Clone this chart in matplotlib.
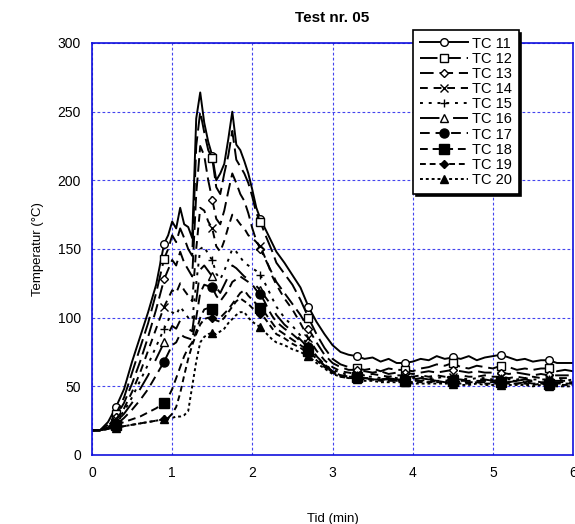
import numpy as np
import matplotlib
matplotlib.use("Agg")
import matplotlib.pyplot as plt

plt.rcParams['font.family'] = ['Liberation Sans', 'DejaVu Sans']

# sample times (min)
time_min = [0.0, 0.1, 0.2, 0.3, 0.4, 0.5, 0.6, 0.7, 0.8, 0.9,
            0.95, 1.0, 1.05, 1.1, 1.15, 1.2, 1.25, 1.3, 1.35, 1.4,
            1.45, 1.5, 1.55, 1.6, 1.65, 1.7, 1.75, 1.8, 1.85, 1.9,
            1.95, 2.0, 2.05, 2.1, 2.15, 2.2, 2.25, 2.3,
            2.4, 2.5, 2.6, 2.7, 2.8, 2.9, 3.0, 3.1, 3.2, 3.3,
            3.4, 3.5, 3.6, 3.7, 3.8, 3.9, 4.0, 4.1, 4.2, 4.3,
            4.4, 4.5, 4.6, 4.7, 4.8, 4.9, 5.0, 5.1, 5.2, 5.3,
            5.4, 5.5, 5.6, 5.7, 5.8, 5.9, 6.0]

tc11 = [18, 18, 24, 35, 48, 68, 86, 104, 124, 154,
        160, 170, 165, 180, 168, 166, 158, 245, 264, 242, 228, 218, 200, 205,
        212, 230, 250, 226, 222, 214, 205, 193, 180, 172, 166, 160, 154, 148,
        140, 131, 122, 108, 97, 88, 80, 75, 73, 72, 70, 71, 68, 70, 67, 67, 68, 70,
        69, 72, 70, 71, 70, 72, 69, 71, 72, 73, 71, 69, 70, 68, 69, 69, 67, 67, 67]
tc12 = [18, 18, 22, 30, 42, 60, 78, 96, 118, 143,
        150, 160, 155, 165, 158, 150, 145, 225, 250, 235, 222, 216, 195, 190,
        205, 218, 236, 215, 210, 205, 198, 188, 176, 170, 162, 155, 148, 140,
        132, 124, 113, 100, 88, 78, 70, 66, 64, 63, 62, 63, 61, 63, 62, 62, 61, 63,
        64, 66, 65, 67, 64, 63, 65, 64, 63, 65, 64, 62, 63, 62, 63, 63, 61, 62, 61]
tc13 = [18, 18, 21, 28, 38, 52, 68, 86, 106, 128,
        135, 142, 138, 148, 140, 135, 130, 190, 225, 218, 200, 186, 172, 168,
        178, 192, 205, 198, 190, 185, 176, 165, 156, 150, 144, 138, 132, 126,
        118, 110, 102, 92, 82, 73, 67, 64, 62, 62, 61, 60, 61, 59, 60, 60, 59, 60,
        61, 60, 61, 62, 61, 60, 61, 60, 60, 60, 59, 60, 59, 58, 59, 58, 58, 58, 58]
tc14 = [18, 18, 20, 26, 34, 46, 60, 76, 92, 108,
        114, 120, 118, 125, 120, 116, 112, 150, 180, 178, 170, 165, 152, 148,
        156, 166, 175, 172, 168, 165, 160, 158, 155, 152, 145, 138, 130, 124,
        114, 106, 96, 85, 76, 69, 64, 61, 60, 59, 58, 59, 58, 57, 58, 58, 57, 58,
        57, 58, 57, 57, 58, 57, 57, 58, 57, 57, 56, 57, 56, 57, 56, 56, 56, 56, 56]
tc15 = [18, 18, 20, 25, 32, 42, 54, 66, 79, 92,
        98, 104, 102, 108, 104, 100, 98, 125, 150, 152, 146, 142, 132, 128,
        134, 142, 150, 148, 144, 140, 138, 136, 134, 131, 126, 120, 114, 108,
        100, 94, 87, 80, 72, 66, 62, 60, 58, 58, 57, 57, 56, 57, 56, 56, 56, 57,
        56, 56, 57, 56, 56, 55, 56, 56, 55, 56, 55, 55, 56, 55, 55, 55, 55, 54, 55]
tc16 = [18, 18, 20, 24, 30, 38, 48, 58, 70, 82,
        88, 94, 92, 98, 95, 92, 90, 112, 135, 138, 134, 130, 122, 118,
        124, 130, 138, 136, 133, 130, 128, 126, 123, 120, 116, 112, 107, 102,
        95, 90, 84, 78, 71, 65, 61, 59, 57, 57, 56, 56, 55, 56, 55, 55, 55, 56,
        55, 55, 55, 55, 55, 54, 55, 55, 54, 55, 54, 54, 55, 54, 54, 54, 54, 54, 54]
tc17 = [18, 18, 19, 22, 27, 33, 40, 48, 58, 68,
        74, 80, 82, 88, 86, 85, 84, 100, 118, 124, 123, 122, 116, 112,
        116, 120, 126, 128, 130, 128, 126, 124, 120, 117, 112, 106, 101, 97,
        92, 88, 83, 79, 72, 66, 61, 58, 57, 56, 56, 55, 55, 55, 54, 55, 55, 54,
        55, 54, 54, 55, 54, 54, 54, 54, 54, 54, 53, 54, 53, 54, 53, 53, 53, 53, 53]
tc18 = [18, 18, 19, 22, 24, 26, 28, 31, 34, 38,
        42, 48, 56, 64, 72, 78, 82, 90, 100, 106, 107, 106, 102, 100,
        103, 106, 110, 114, 118, 120, 116, 113, 110, 107, 104, 100, 96, 92,
        88, 84, 80, 76, 70, 65, 60, 58, 57, 57, 56, 55, 55, 55, 54, 54, 54, 54,
        53, 54, 53, 54, 53, 53, 53, 53, 53, 53, 53, 52, 53, 52, 52, 52, 52, 52, 52]
tc19 = [18, 18, 19, 20, 21, 22, 23, 24, 25, 26,
        27, 30, 35, 45, 58, 70, 80, 88, 95, 99, 100, 100, 98, 97,
        100, 104, 108, 112, 114, 112, 110, 107, 105, 103, 100, 96, 92, 88,
        85, 81, 78, 74, 69, 64, 60, 57, 56, 56, 55, 55, 54, 54, 54, 54, 53, 53,
        53, 53, 53, 53, 52, 52, 53, 52, 52, 52, 52, 52, 52, 51, 52, 51, 51, 51, 51]
tc20 = [18, 18, 19, 20, 21, 22, 23, 24, 25, 26,
        27, 27, 28, 28, 29, 32, 50, 68, 82, 86, 88, 89, 88, 90,
        92, 96, 99, 102, 104, 104, 100, 97, 95, 93, 90, 87, 84, 82,
        80, 77, 75, 72, 67, 63, 59, 57, 56, 55, 54, 54, 53, 53, 53, 53, 52, 52,
        52, 52, 52, 52, 51, 51, 52, 51, 51, 51, 51, 51, 51, 50, 51, 50, 50, 50, 50]

labels = ['TC 11', 'TC 12', 'TC 13', 'TC 14', 'TC 15',
          'TC 16', 'TC 17', 'TC 18', 'TC 19', 'TC 20']
series = [tc11, tc12, tc13, tc14, tc15, tc16, tc17, tc18, tc19, tc20]

# line style per series: (dashes, marker, filled, markersize)
styles = [
    (None,     'o', False, 5.5),
    ((9, 3),   's', False, 5.5),
    ((7, 3),   'D', False, 4.5),
    ((4, 3),   'x', False, 5.5),
    ((1.5, 3), '+', False, 6.0),
    ((10, 7),  '^', False, 5.5),
    ((5, 3),   'o', True, 6.5),
    ((4, 2.5), 's', True, 7.0),
    ((3, 2),   'D', True, 4.5),
    ((1.5, 1.5), '^', True, 6.0),
]

t = np.array(time_min)
mark_idx = [i for i, v in enumerate(t) if abs(((v - 0.3) / 0.6) - round((v - 0.3) / 0.6)) < 1e-6]

fig = plt.figure(figsize=(5.75, 5.24), dpi=100)
ax = fig.add_axes([92 / 575, 69 / 524, 481 / 575, 412 / 524])

for vals, lab, (dash, mk, filled, ms) in zip(series, labels, styles):
    line, = ax.plot(t, vals, color='black', lw=1.4, marker=mk, ms=ms,
                    mfc='black' if filled else 'white', mec='black', mew=1.0,
                    markevery=mark_idx, label=lab)
    if dash is not None:
        line.set_dashes(dash)

ax.set_xlim(0, 6)
ax.set_ylim(0, 300)
ax.set_xticks(range(0, 7))
ax.set_yticks(range(0, 301, 50))
ax.grid(True, color='#4444ee', linestyle=(0, (2.5, 2)), linewidth=0.8)
for sp in ax.spines.values():
    sp.set_color('#1010dd')
    sp.set_linewidth(1.2)
ax.tick_params(length=0, labelsize=10, pad=8)

ax.set_title('Test nr. 05', fontsize=11, fontweight='bold', pad=15)
ax.set_xlabel('Tid (min)', fontsize=9.5, labelpad=24)
ax.set_ylabel('Temperatur (°C)', fontsize=9.5, labelpad=10)

leg = ax.legend(loc='upper left', bbox_to_anchor=(413 / 575, 1 - 30 / 524),
                bbox_transform=fig.transFigure, borderaxespad=0,
                fontsize=10.5, numpoints=1,
                handlelength=3.3, handletextpad=0.3, labelspacing=0.08,
                borderpad=0.45, fancybox=False, framealpha=1,
                shadow={'color': 'black', 'alpha': 1})
leg.get_frame().set_edgecolor('black')
leg.get_frame().set_linewidth(1.2)
leg.set_zorder(10)

fig.savefig('out.png', dpi=100)
